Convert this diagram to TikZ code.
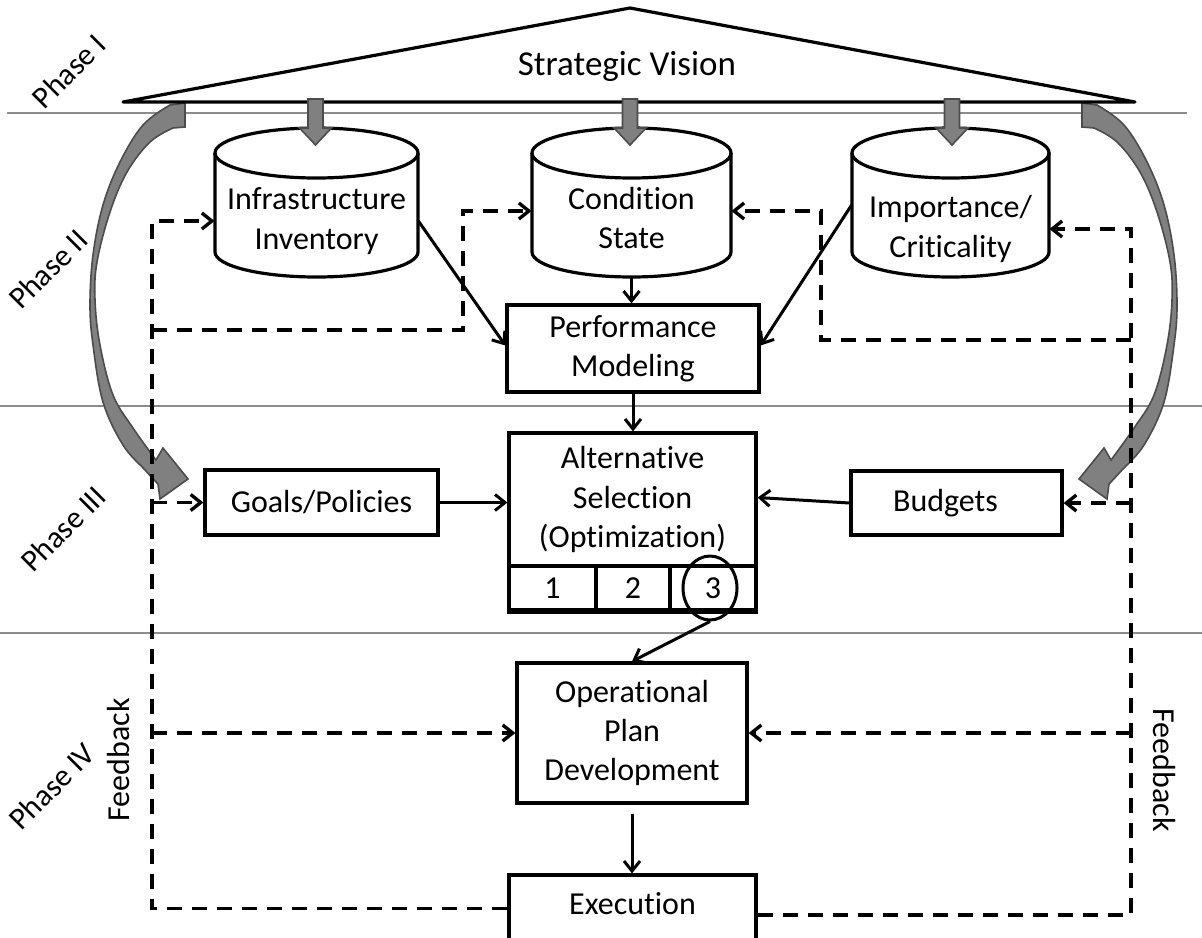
\documentclass[tikz,border=0pt]{standalone}
\usepackage{fontspec}
\setmainfont{Carlito}[Ligatures={NoCommon,NoContextual}, RawFeature={-liga;-clig;-calt}]
\usetikzlibrary{arrows.meta,calc,shapes.geometric}
\newcommand\mainfs{\fontsize{16}{19.7}\selectfont}
\newcommand\phasefs{\fontsize{15.5}{18}\selectfont}
\tikzset{
  box/.style={draw, line width=1.6pt, inner sep=0pt, align=center, font=\mainfs},
  lbl/.style={inner sep=0pt, align=center, font=\mainfs},
  phase/.style={inner sep=0pt, font=\phasefs, rotate=45},
  arr/.style={line width=1.5pt, -{Straight Barb[length=5pt,width=8pt]}},
  fb/.style={line width=1.7pt, dash pattern=on 7.5pt off 5pt, -{Straight Barb[length=5pt,width=8pt]}},
  sepline/.style={draw=black!45, line width=0.6pt},
  cyl/.style={line width=1.6pt},
  blk/.style={fill=black!50, draw=black!70, line width=0.8pt, line join=miter},
}
\begin{document}
\begin{tikzpicture}[x=0.5pt,y=-0.5pt]
\useasboundingbox (0,0) rectangle (1202,937);

% separators
\draw[sepline] (7,113) -- (1187,113);
\draw[sepline] (0,406) -- (1202,406);
\draw[sepline] (0,633) -- (1202,633);

% curved gray arrows
\def\curvedarrow{%
 \filldraw[blk] (185,103) -- plot[smooth, tension=0.6] coordinates {(170,105) (143,125) (120,162) (103,205) (93,255) (90,305) (93,345) (103,402) (123,445) (145,470) (158,484)}
   -- (160,499) -- (188,479) -- (163,448) --
   plot[smooth, tension=0.6] coordinates {(156,460) (133,428) (113,395) (100,345) (95,300) (97,262) (110,212) (127,172) (150,142) (173,128)}
   -- (185,127) -- cycle;}
\curvedarrow
\begin{scope}[shift={(1267,0)}, xscale=-1]
\curvedarrow
\end{scope}

% roof
\draw[line width=1.6pt, line join=round] (123,102) -- (630,8) -- (1135,102) -- cycle;
\node[inner sep=0pt, font=\fontsize{17.5}{21}\selectfont] (sv) at (627,66) {Strategic Vision};

% cylinders
\foreach \L/\R in {215/418, 532/731, 852/1049}{
  \pgfmathsetmacro\cx{(\L+\R)/2}
  \pgfmathsetmacro\rx{(\R-\L)/4}
  \draw[cyl] (\L,153) -- (\L,252) arc[start angle=180, end angle=360, x radius=\rx pt, y radius=12.5pt] -- (\R,153);
  \draw[cyl] (\cx,153) ellipse [x radius=\rx pt, y radius=12.5pt];
}
\node[lbl, minimum width=101.5pt] (inv) at (316.5,221) {Infrastructure\\Inventory};
\node[lbl, minimum width=99.5pt] (cond) at (631.5,218) {Condition\\State};
\node[lbl, minimum width=98.5pt] (imp) at (950.5,229) {Importance/\\Criticality};
\coordinate (condbot) at (631.5,277);

% block arrows down
\foreach \c in {315.5, 630, 952}{
  \filldraw[blk] (\c-7.5,99) -- (\c+7.5,99) -- (\c+7.5,128) -- (\c+16,128) -- (\c,145) -- (\c-16,128) -- (\c-7.5,128) -- cycle;
}

% boxes
\node[box, minimum width=126pt, minimum height=43.5pt] (perf) at (633,348.5) {Performance\\Modeling};
\node[box, minimum width=123.5pt, minimum height=66.5pt] (alt) at (632.5,499.5) {Alternative\\Selection\\(Optimization)};
\node[box, minimum width=43.5pt, minimum height=22pt] (c1) at (552.5,588) {1};
\node[box, minimum width=37pt, minimum height=22pt] (c2) at (633,588) {2};
\node[box, minimum width=43pt, minimum height=22pt] (c3) at (713,588) {3};
\draw[line width=2.6pt] (c1.south west) -- (c3.south east);
\node[draw, ellipse, line width=1.5pt, inner sep=0pt, minimum width=27pt, minimum height=32pt] (e3) at (710,588) {};
\node[box, minimum width=116.5pt, minimum height=32.5pt] (goals) at (321.5,502.5) {Goals/Policies};
\node[box, minimum width=105.5pt, minimum height=32pt] (budg) at (956.5,503) {Budgets\hspace{11pt}};
\node[box, minimum width=115pt, minimum height=70pt] (op) at (632,733) {Operational\\Plan\\Development};
\node[box, minimum width=123.5pt, minimum height=37.5pt] (exec) at (632.5,912.5) {\raisebox{9pt}{Execution}};

% labels
\node[phase] (p1) at (69,71) {Phase I};
\node[phase] (p2) at (48,269) {Phase II};
\node[phase] (p3) at (63,529) {Phase III};
\node[phase] (p4) at (52,786) {Phase IV};
\node[lbl, rotate=90] (fbl) at (119,760) {Feedback};
\node[lbl, rotate=-90] (fbr) at (1164,770) {Feedback};

% solid arrows
\draw[arr] (inv.east) -- ($(perf.west)+(0,-3)$);
\draw[arr] ($(imp.west)+(0,-24)$) -- ($(perf.east)+(0,-3)$);
\draw[arr] (condbot) -- (condbot |- perf.north);
\draw[arr] (perf.south) -- (perf.south |- alt.north);
\draw[arr] (goals.east) -- (goals.east -| alt.west);
\draw[arr] (budg.west) -- ($(alt.east)+(0,-2)$);
\draw[arr] (e3.south) -- (op.north);
\draw[arr] ($(op.south)+(0,9)$) -- (op.south |- exec.north);

% feedback dashed
\coordinate (L) at (152,0);
\coordinate (R) at (1131,0);
\coordinate (k1) at (463,330);
\coordinate (k2) at (821,340);
\draw[fb] ($(exec.west)+(0,-4)$) -| (L |- inv.west) -- (inv.west);
\draw[fb] (L |- op.west) -- (op.west);
\draw[fb] (L |- goals.west) -- (goals.west);
\draw[fb] (L |- k1) -- (k1) |- ($(cond.west)+(0,-7)$);
\draw[fb] ($(exec.east)+(0,2.5)$) -| (R |- imp.east) -- (imp.east);
\draw[fb] (R |- op.east) -- (op.east);
\draw[fb] (R |- budg.east) -- (budg.east);
\draw[fb] (R |- k2) -- (k2) |- ($(cond.east)+(0,-7)$);
\end{tikzpicture}
\end{document}
